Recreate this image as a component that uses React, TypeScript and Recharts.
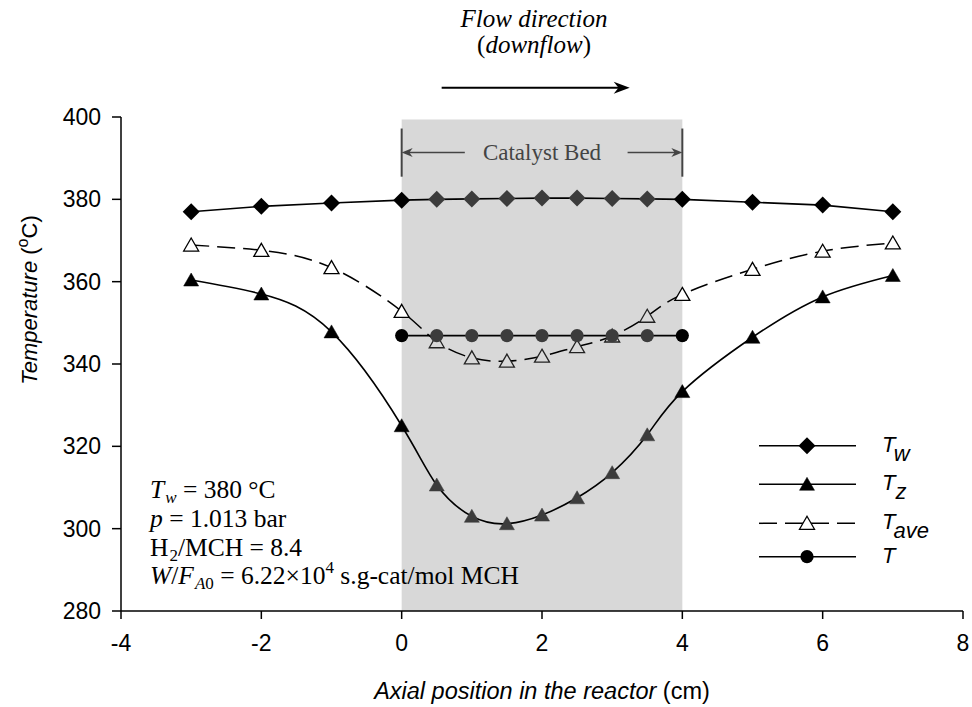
import React from 'react';
import { ComposedChart, Line, Area, XAxis, YAxis, ReferenceLine, ReferenceDot, Legend } from 'recharts';

const positions = [-3, -2, -1, 0, 0.5, 1, 1.5, 2, 2.5, 3, 3.5, 4, 5, 6, 7];
const bedPositions = [0, 0.5, 1, 1.5, 2, 2.5, 3, 3.5, 4];
const twValues = [377.0, 378.3, 379.1, 379.8, 380.0, 380.1, 380.2, 380.3, 380.3, 380.2, 380.1, 380.0, 379.3, 378.6, 377.0];
const tzValues = [360.4, 357.0, 347.8, 325.0, 310.6, 303.0, 301.2, 303.3, 307.5, 313.6, 322.8, 333.3, 346.5, 356.3, 361.5];
const taveValues = [368.9, 367.6, 363.4, 352.8, 345.4, 341.5, 340.7, 341.9, 344.2, 346.8, 351.6, 356.9, 363.0, 367.4, 369.4];
const tValues = [346.9, 346.9, 346.9, 346.9, 346.9, 346.9, 346.9, 346.9, 346.9];
const xTicks = [-4, -2, 0, 2, 4, 6, 8];
const yTicks = [280, 300, 320, 340, 360, 380, 400];
const bedStart = 0;
const bedEnd = 4;
const bedTop = 399.4;
const bedBottom = 280;
const bedLabelY = 391.4;
const bedBarTop = 397.2;
const bedBarBottom = 385.5;
const bedArrowLeftEnd = 0.9;
const bedArrowRightStart = 3.22;
const flowArrowY = 407.1;
const flowArrowStart = 0.57;
const flowArrowEnd = 3.25;

const twData = positions.map((x, i) => ({ x, y: twValues[i] }));
const tzData = positions.map((x, i) => ({ x, y: tzValues[i] }));
const taveData = positions.map((x, i) => ({ x, y: taveValues[i] }));
const tData = bedPositions.map((x, i) => ({ x, y: tValues[i] }));
const bedData = [bedStart, bedEnd].map((x) => ({ x, y: bedTop }));

const SANS = 'Liberation Sans, Arial, sans-serif';
const SERIF = 'Liberation Serif, Times New Roman, serif';

const inBed = (p: any) => p && p.payload && p.payload.x > bedStart && p.payload.x < bedEnd;
const DARK_IN_BED = '#3c3c3c';
const LIGHT_IN_BED = '#d9d9d9';

const Diamond = ({ cx, cy, fill = '#000' }: any) => (
  <polygon points={`${cx},${cy - 8.5} ${cx + 8.5},${cy} ${cx},${cy + 8.5} ${cx - 8.5},${cy}`} fill={fill} />
);
const Tri = ({ cx, cy, filled, fill, stroke = '#000' }: any) => (
  <polygon
    points={`${cx},${cy - 7} ${cx + 7.5},${cy + 6} ${cx - 7.5},${cy + 6}`}
    fill={fill || (filled ? '#000' : '#fff')}
    stroke={stroke}
    strokeWidth={filled ? 0.5 : 1.3}
  />
);
const Dot = ({ cx, cy, fill = '#000' }: any) => <circle cx={cx} cy={cy} r={6.6} fill={fill} />;

const arrowShape = (color: string, width: number, headLen: number, headHalf: number) => (props: any) => {
  const { x1, y1, x2, y2 } = props;
  const dir = x2 > x1 ? 1 : -1;
  return (
    <g>
      <line x1={x1} y1={y1} x2={x2 - dir * headLen * 0.6} y2={y2} stroke={color} strokeWidth={width} />
      <polygon
        points={`${x2},${y2} ${x2 - dir * headLen},${y2 - headHalf} ${x2 - dir * headLen * 0.7},${y2} ${x2 - dir * headLen},${y2 + headHalf}`}
        fill={color}
      />
    </g>
  );
};

const legendItems = [
  { label: 'T', sub: 'w', marker: 'diamond', dashed: false },
  { label: 'T', sub: 'z', marker: 'tri', dashed: false },
  { label: 'T', sub: 'ave', marker: 'open', dashed: true },
  { label: 'T', sub: '', marker: 'circle', dashed: false },
];
const legendRowY = [20.7, 59.3, 98.3, 131.7];

const renderLegend = () => (
  <svg width={215} height={150} style={{ overflow: 'visible' }}>
    {legendItems.map((it, i) => {
      const y = legendRowY[i];
      return (
        <g key={i}>
          <line x1={4} x2={101} y1={y} y2={y} stroke="#000" strokeWidth={1.5} strokeDasharray={it.dashed ? '18 8' : undefined} />
          {it.marker === 'diamond' && <Diamond cx={52} cy={y} />}
          {it.marker === 'tri' && <Tri cx={52} cy={y} filled />}
          {it.marker === 'open' && <Tri cx={52} cy={y} filled={false} />}
          {it.marker === 'circle' && <Dot cx={52} cy={y} />}
          <text x={127} y={y + 6} fontFamily={SANS} fontStyle="italic" fontSize={22} fill="#000">
            {it.label}
            {it.sub && (
              <tspan dy={9} fontSize={22}>
                {it.sub}
              </tspan>
            )}
          </text>
        </g>
      );
    })}
  </svg>
);

const YLabel = ({ viewBox }: any) => {
  const x = viewBox.x - 24;
  const y = viewBox.y + viewBox.height / 2 - 64;
  return (
    <text x={x} y={y} transform={`rotate(-90, ${x}, ${y})`} textAnchor="middle" fontFamily={SANS} fontSize={22} fill="#000">
      <tspan fontStyle="italic">Temperature</tspan>
      <tspan> (</tspan>
      <tspan dy={-9} fontSize={16}>o</tspan>
      <tspan dy={9}>C)</tspan>
    </text>
  );
};

const XLabel = ({ viewBox }: any) => {
  const x = viewBox.x + viewBox.width / 2;
  const y = viewBox.y + 88;
  return (
    <text x={x} y={y} textAnchor="middle" fontFamily={SANS} fontSize={23.5} fill="#000">
      <tspan fontStyle="italic">Axial position in the reactor</tspan>
      <tspan> (cm)</tspan>
    </text>
  );
};

export default function App() {
  const tick = { fill: '#000', fontSize: 23, fontFamily: SANS };
  return (
    <div style={{ position: 'absolute', left: 0, top: 0, width: 972, height: 707, background: '#fff' }}>
      <ComposedChart width={972} height={707} margin={{ top: 117, right: 9, bottom: 36, left: 61 }}>
        <XAxis
          xAxisId="main"
          type="number"
          dataKey="x"
          domain={[-4, 8]}
          ticks={xTicks}
          interval={0}
          allowDataOverflow
          height={60}
          tickSize={8}
          tickMargin={16}
          tick={tick}
          tickLine={{ stroke: '#000', strokeWidth: 1.5 }}
          axisLine={{ stroke: '#000', strokeWidth: 1.5 }}
          label={<XLabel />}
        />
        <XAxis xAxisId="top" orientation="top" type="number" domain={[-4, 8]} height={0} tick={false} tickLine={false} axisLine={{ stroke: '#000', strokeWidth: 1.5 }} />
        <YAxis
          yAxisId="main"
          type="number"
          domain={[280, 400]}
          ticks={yTicks}
          interval={0}
          allowDataOverflow
          width={60}
          tickSize={9}
          tickMargin={11}
          tick={tick}
          tickLine={{ stroke: '#000', strokeWidth: 1.5 }}
          axisLine={{ stroke: '#000', strokeWidth: 1.5 }}
          label={<YLabel />}
        />
        <YAxis yAxisId="right" orientation="right" type="number" domain={[280, 400]} width={0} tick={false} tickLine={false} axisLine={{ stroke: '#000', strokeWidth: 1.5 }} />

        <Area xAxisId="main" yAxisId="main" data={bedData} dataKey="y" type="linear" baseValue={bedBottom} stroke="none" fill="#8a8a8a" fillOpacity={0.33}
          dot={false} activeDot={false} isAnimationActive={false} />

        <Line xAxisId="main" yAxisId="main" data={twData} dataKey="y" type="linear" stroke="#000" strokeWidth={1.6} isAnimationActive={false}
          dot={(p: any) => <Diamond key={`tw${p.index}`} cx={p.cx} cy={p.cy} fill={inBed(p) ? DARK_IN_BED : '#000'} />} activeDot={false} />
        <Line xAxisId="main" yAxisId="main" data={tzData} dataKey="y" type="natural" stroke="#000" strokeWidth={1.6} isAnimationActive={false}
          dot={(p: any) => <Tri key={`tz${p.index}`} cx={p.cx} cy={p.cy} filled fill={inBed(p) ? DARK_IN_BED : '#000'} stroke={inBed(p) ? DARK_IN_BED : '#000'} />} activeDot={false} />
        <Line xAxisId="main" yAxisId="main" data={taveData} dataKey="y" type="natural" stroke="#000" strokeWidth={1.5} strokeDasharray="18 8" isAnimationActive={false}
          dot={(p: any) => <Tri key={`ta${p.index}`} cx={p.cx} cy={p.cy} filled={false} fill={inBed(p) ? LIGHT_IN_BED : '#fff'} stroke={inBed(p) ? '#222' : '#000'} />} activeDot={false} />
        <Line xAxisId="main" yAxisId="main" data={tData} dataKey="y" type="linear" stroke="#000" strokeWidth={1.6} isAnimationActive={false}
          dot={(p: any) => <Dot key={`t${p.index}`} cx={p.cx} cy={p.cy} fill={inBed(p) ? DARK_IN_BED : '#000'} />} activeDot={false} />

        <ReferenceLine xAxisId="main" yAxisId="main" segment={[{ x: bedStart, y: bedBarTop }, { x: bedStart, y: bedBarBottom }]} stroke="#444" strokeWidth={2} ifOverflow="visible" />
        <ReferenceLine xAxisId="main" yAxisId="main" segment={[{ x: bedEnd, y: bedBarTop }, { x: bedEnd, y: bedBarBottom }]} stroke="#444" strokeWidth={2} ifOverflow="visible" />
        <ReferenceLine xAxisId="main" yAxisId="main" segment={[{ x: bedArrowLeftEnd, y: bedLabelY }, { x: bedStart, y: bedLabelY }]} ifOverflow="visible" shape={arrowShape('#444', 1.5, 11, 4.5)} />
        <ReferenceLine xAxisId="main" yAxisId="main" segment={[{ x: bedArrowRightStart, y: bedLabelY }, { x: bedEnd, y: bedLabelY }]} ifOverflow="visible" shape={arrowShape('#444', 1.5, 11, 4.5)} />
        <ReferenceDot xAxisId="main" yAxisId="main" x={(bedStart + bedEnd) / 2} y={bedLabelY} r={0} ifOverflow="visible"
          shape={(p: any) => (
            <text x={p.cx} y={p.cy + 8} textAnchor="middle" fontFamily={SERIF} fontSize={23} fill="#444">Catalyst Bed</text>
          )} />
        <ReferenceLine xAxisId="main" yAxisId="main" segment={[{ x: flowArrowStart, y: flowArrowY }, { x: flowArrowEnd, y: flowArrowY }]} ifOverflow="visible" shape={arrowShape('#000', 2, 16, 6)} />

        <Legend layout="horizontal" verticalAlign="middle" align="center" wrapperStyle={{ left: 755, top: 425, width: 215, height: 150 }} content={renderLegend} />
      </ComposedChart>

      <svg width={972} height={707} style={{ position: 'absolute', left: 0, top: 0, pointerEvents: 'none' }}>
        <text x={534} y={27} textAnchor="middle" fontFamily={SERIF} fontStyle="italic" fontSize={25} fill="#000">Flow direction</text>
        <text x={534} y={53} textAnchor="middle" fontFamily={SERIF} fontSize={25} fill="#000">
          (<tspan fontStyle="italic">downflow</tspan>)
        </text>
        <g fontFamily={SERIF} fontSize={25.5} fill="#000">
          <text x={150} y={498}>
            <tspan fontStyle="italic">T</tspan>
            <tspan fontStyle="italic" fontSize={17} dx={1} dy={5}>w</tspan>
            <tspan dy={-5}> = 380 °C</tspan>
          </text>
          <text x={150} y={527}>
            <tspan fontStyle="italic">p</tspan>
            <tspan> = 1.013 bar</tspan>
          </text>
          <text x={150} y={556}>
            <tspan>H</tspan>
            <tspan fontSize={17} dx={1} dy={5}>2</tspan>
            <tspan dy={-5}>/MCH = 8.4</tspan>
          </text>
          <text x={150} y={584}>
            <tspan fontStyle="italic">W</tspan>
            <tspan>/</tspan>
            <tspan fontStyle="italic">F</tspan>
            <tspan fontStyle="italic" fontSize={17} dx={1} dy={5}>A</tspan>
            <tspan fontSize={17}>0</tspan>
            <tspan dy={-5}> = 6.22×10</tspan>
            <tspan fontSize={17} dy={-11}>4</tspan>
            <tspan dy={11}> s.g-cat/mol MCH</tspan>
          </text>
        </g>
      </svg>
    </div>
  );
}
